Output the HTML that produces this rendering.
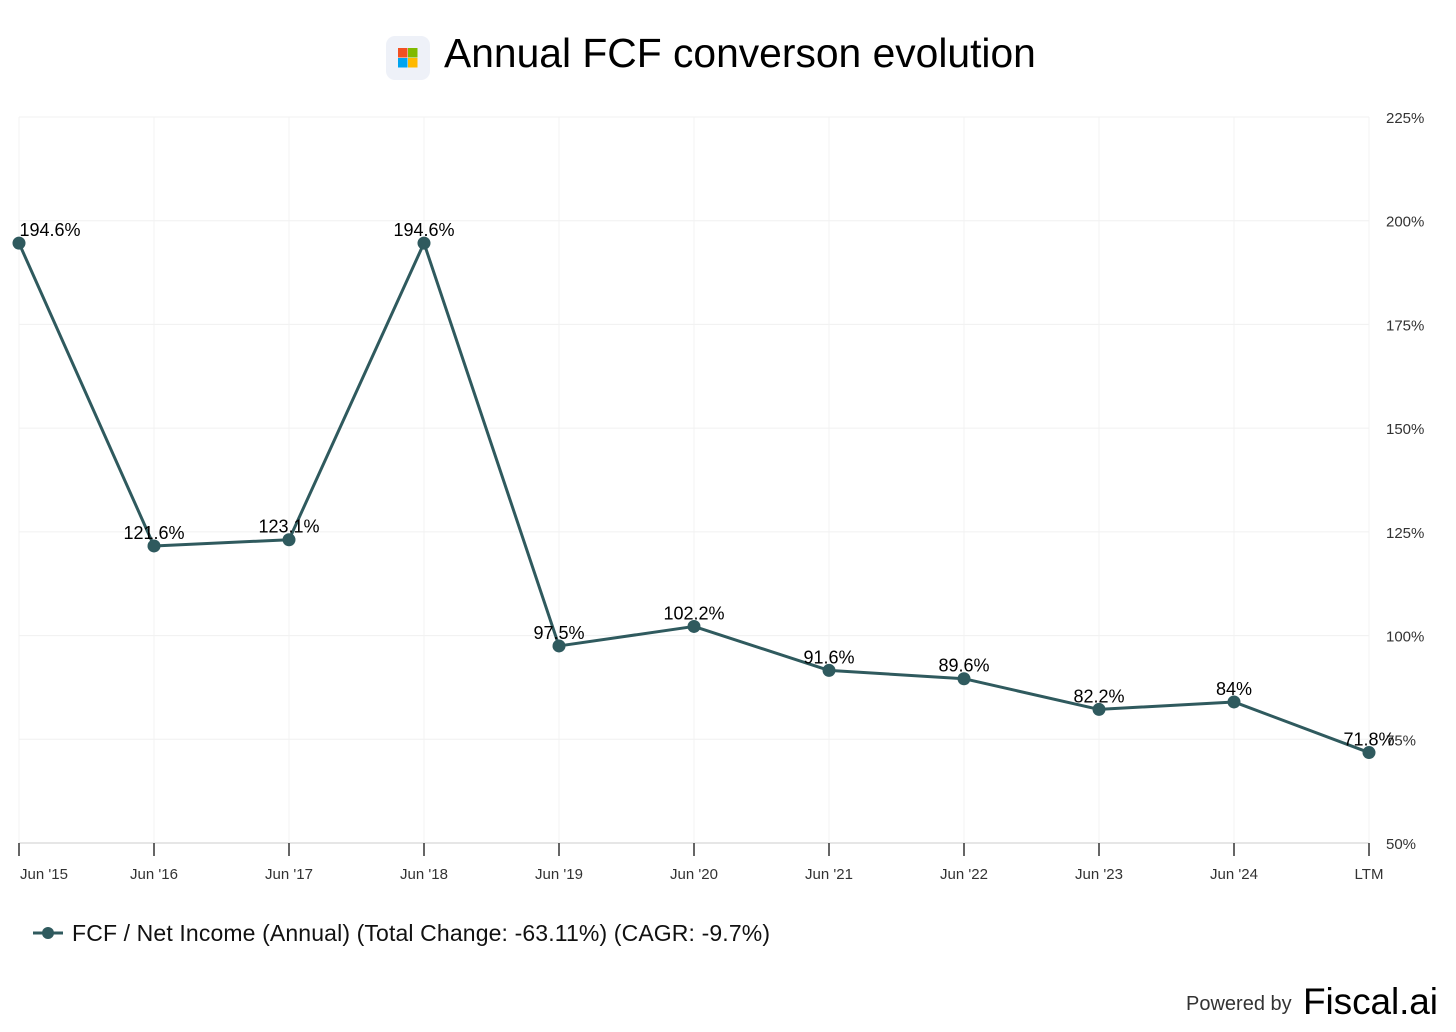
<!DOCTYPE html>
<html><head><meta charset="utf-8"><style>
body{margin:0;background:#fff;font-family:"Liberation Sans",sans-serif;}
svg{display:block}
</style></head><body>
<svg id="chart" width="1456" height="1032" font-family="Liberation Sans, sans-serif">
<g>
<rect x="386" y="36" width="44" height="44" rx="9" fill="#eef1f8"/>
<rect x="398" y="48" width="9.5" height="9.5" fill="#f25022"/>
<rect x="408" y="48" width="9.5" height="9.5" fill="#7fba00"/>
<rect x="398" y="58" width="9.5" height="9.5" fill="#00a4ef"/>
<rect x="408" y="58" width="9.5" height="9.5" fill="#ffb900"/>
<text x="444" y="67" font-size="40.8" fill="#000">Annual FCF converson evolution</text>
</g>
<g id="grid"></g><g id="axes"></g><g id="series"></g>
<g>
<line x1="33" y1="933" x2="63" y2="933" stroke="#2f5a5e" stroke-width="3"/>
<circle cx="48" cy="933" r="6" fill="#2f5a5e"/>
<text x="72" y="941" font-size="23" fill="#111" textLength="698">FCF / Net Income (Annual) (Total Change: -63.11%) (CAGR: -9.7%)</text>
</g>
<text x="1186" y="1010" font-size="20" fill="#333">Powered by</text>
<text x="1303" y="1014" font-size="37" fill="#000" textLength="135">Fiscal.ai</text>
</svg>
<script>
const categories=["Jun '15","Jun '16","Jun '17","Jun '18","Jun '19","Jun '20","Jun '21","Jun '22","Jun '23","Jun '24","LTM"];
const values=[194.6,121.6,123.1,194.6,97.5,102.2,91.6,89.6,82.2,84,71.8];
const labels=["194.6%","121.6%","123.1%","194.6%","97.5%","102.2%","91.6%","89.6%","82.2%","84%","71.8%"];
const yTicks=[50,75,100,125,150,175,200,225];
const NS="http://www.w3.org/2000/svg";
const x0=19,x1=1369,yTop=117,yBot=843,vMin=50,vMax=225;
function xs(i){return x0+(x1-x0)*i/(categories.length-1);}
function ys(v){return yBot-(v-vMin)/(vMax-vMin)*(yBot-yTop);}
function mk(tag,attrs,parent){const e=document.createElementNS(NS,tag);for(const k in attrs)e.setAttribute(k,attrs[k]);parent.appendChild(e);return e;}
const grid=document.getElementById('grid'),axes=document.getElementById('axes'),ser=document.getElementById('series');
yTicks.forEach(t=>{
 const l=mk('line',{x1:x0,x2:x1,y1:ys(t),y2:ys(t),stroke:t===vMin?'#ccc':'#f0f0f0','stroke-width':1},grid);
 
 
 const tx=mk('text',{x:1386,y:ys(t)+6,'font-size':15,fill:'#333'},axes);
 tx.textContent=t+'%';
 
 
});
categories.forEach((c,i)=>{
 const g=mk('line',{x1:xs(i),x2:xs(i),y1:yTop,y2:yBot,stroke:'#f3f3f3'},grid);
 
 
 const tk=mk('line',{x1:xs(i),x2:xs(i),y1:yBot,y2:yBot+13,stroke:'#333','stroke-width':1.5},axes);
 
 
 const tx=mk('text',{x:xs(i)+(i===0?25:0),y:879,'font-size':15,fill:'#333','text-anchor':'middle'},axes);
 tx.textContent=c;
 
 
});
const pts=values.map((v,i)=>xs(i)+','+ys(v)).join(' ');
const pl=mk('polyline',{points:pts,fill:'none',stroke:'#2f5a5e','stroke-width':3,'stroke-linejoin':'round'},ser);


values.forEach((v,i)=>{
 const c=mk('circle',{cx:xs(i),cy:ys(v),r:6.5,fill:'#2f5a5e'},ser);
 
 
 const t=mk('text',{x:xs(i)+(i===0?31:0),y:ys(v)-7,'font-size':18,fill:'#000','text-anchor':'middle'},ser);
 t.textContent=labels[i];
 
 
});
</script>
</body></html>
